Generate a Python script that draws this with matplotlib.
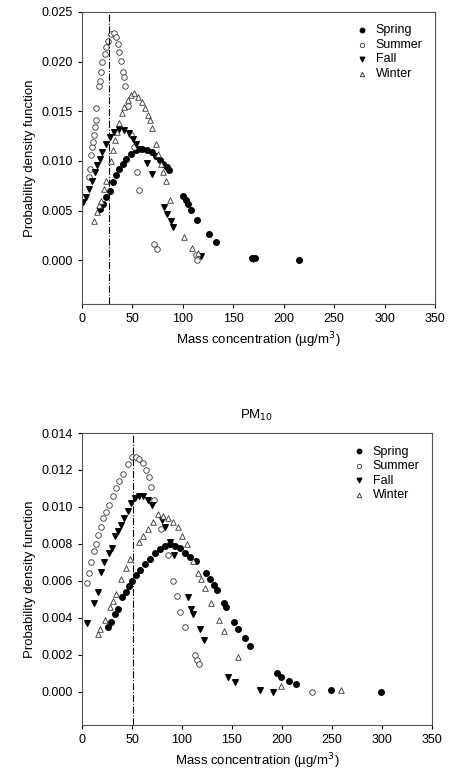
import matplotlib.pyplot as plt

# PM2.5 panel (top)
a_spring_x = [18, 21, 24, 27.5, 31, 34, 37, 41, 44, 49, 54, 59, 64, 69, 73, 77, 80.5, 84, 86,
              100, 103, 105, 108.5, 114, 125.5, 133, 169, 172, 215]
a_spring_y = [0.0052, 0.0057, 0.0064, 0.0070, 0.0079, 0.0086, 0.0092, 0.0097, 0.0102, 0.0107,
              0.0111, 0.0112, 0.0111, 0.0109, 0.0105, 0.0101, 0.0097, 0.0094, 0.0091,
              0.0065, 0.0061, 0.0057, 0.0051, 0.0041, 0.0026, 0.0018, 0.0002, 0.0002, 0.0000]
a_summer_x = [7, 8, 9, 10, 10.5, 11.5, 12.5, 13.5, 14, 17, 18, 18.5, 20, 22.5, 24, 26, 29, 32,
              34, 36, 37, 39, 41, 42, 43, 46, 49, 52, 55, 57, 71, 74, 113, 114]
a_summer_y = [0.0084, 0.0092, 0.0106, 0.0114, 0.0119, 0.0126, 0.0134, 0.0141, 0.0153, 0.0175,
              0.0181, 0.0190, 0.0200, 0.0208, 0.0215, 0.0221, 0.0228, 0.0229, 0.0225, 0.0218,
              0.0210, 0.0201, 0.0190, 0.0185, 0.0175, 0.0155, 0.0126, 0.0114, 0.0089, 0.0071,
              0.0016, 0.0011, 0.0005, 0.0000]
a_fall_x = [1, 3.5, 7, 10, 12.5, 15, 17.5, 20, 23.5, 27.5, 32, 37, 42, 46.5, 50.5, 54, 57, 64,
            69, 81, 84, 88, 90, 118, 170]
a_fall_y = [0.0059, 0.0064, 0.0072, 0.0080, 0.0089, 0.0096, 0.0102, 0.0109, 0.0117, 0.0124,
            0.0129, 0.0132, 0.0131, 0.0128, 0.0122, 0.0117, 0.0112, 0.0098, 0.0087, 0.0054,
            0.0047, 0.0040, 0.0034, 0.0004, 0.0001]
a_winter_x = [12, 15, 17, 18.5, 21.5, 23.5, 29, 31, 32.5, 35, 37, 40, 42, 45.5, 49, 52, 55.5,
              59, 62, 65.5, 67, 69.5, 73, 75.5, 78.5, 80.5, 83, 87, 101, 109.5, 115]
a_winter_y = [0.0040, 0.0049, 0.0056, 0.0060, 0.0072, 0.0080, 0.0100, 0.0111, 0.0121, 0.0129,
              0.0138, 0.0148, 0.0154, 0.0161, 0.0166, 0.0168, 0.0164, 0.0159, 0.0153, 0.0146,
              0.0141, 0.0133, 0.0117, 0.0107, 0.0097, 0.0089, 0.0080, 0.0061, 0.0023, 0.0012,
              0.0007]

# PM10 panel (bottom)
b_spring_x = [26, 29, 32.5, 36, 40, 43.5, 47, 50, 54, 57.5, 62.5, 67.5, 72.5, 77.5, 82.5, 87.5,
              92.5, 97.5, 102.5, 107.5, 114, 123.5, 127.5, 131.5, 135, 142, 143.5, 152, 156,
              162.5, 167.5, 195, 199, 207, 213.5, 249, 299]
b_spring_y = [0.0035, 0.0038, 0.0042, 0.0045, 0.0051, 0.0054, 0.0057, 0.0060, 0.0063, 0.0066,
              0.0069, 0.0072, 0.0075, 0.0077, 0.0079, 0.0080, 0.0079, 0.0078, 0.0075, 0.0073,
              0.0071, 0.0064, 0.0061, 0.0058, 0.0055, 0.0048, 0.0046, 0.0038, 0.0034, 0.0029,
              0.0025, 0.0010, 0.0008, 0.0006, 0.0004, 0.0001, 0.0000]
b_summer_x = [5, 6.5, 9, 12, 14, 16, 19, 21, 24, 27, 31, 34, 37, 41, 46, 50, 54, 57, 61, 64,
              67, 69, 72, 79, 85.5, 91, 95, 98, 103, 112.5, 115, 117, 230]
b_summer_y = [0.0059, 0.0064, 0.0070, 0.0076, 0.0080, 0.0085, 0.0089, 0.0094, 0.0097, 0.0101,
              0.0106, 0.0110, 0.0114, 0.0118, 0.0123, 0.0127, 0.0127, 0.0126, 0.0124, 0.0120,
              0.0116, 0.0111, 0.0104, 0.0088, 0.0074, 0.0060, 0.0052, 0.0043, 0.0035, 0.0020,
              0.0017, 0.0015, 0.0000]
b_fall_x = [5, 12, 15.5, 19, 22, 27, 30, 32.5, 36, 39, 42, 46, 49, 53, 57, 61, 66, 70, 80,
            82.5, 87.5, 91.5, 105.5, 109, 110.5, 117.5, 121.5, 146, 153, 178, 191]
b_fall_y = [0.0037, 0.0048, 0.0054, 0.0065, 0.0070, 0.0075, 0.0078, 0.0084, 0.0087, 0.0090,
            0.0094, 0.0098, 0.0102, 0.0105, 0.0106, 0.0106, 0.0104, 0.0101, 0.0093, 0.0089,
            0.0081, 0.0074, 0.0051, 0.0045, 0.0042, 0.0034, 0.0028, 0.0008, 0.0005, 0.0001,
            0.0000]
b_winter_x = [16, 18, 23, 28, 31, 33.5, 39, 43.5, 47.5, 57, 61, 66, 71, 76, 81, 86, 91, 96,
              100, 105, 111, 116, 119, 122.5, 129, 137, 142, 156, 199, 259]
b_winter_y = [0.0031, 0.0034, 0.0039, 0.0046, 0.0049, 0.0053, 0.0061, 0.0067, 0.0072, 0.0081,
              0.0084, 0.0088, 0.0092, 0.0096, 0.0095, 0.0094, 0.0092, 0.0089, 0.0084, 0.0080,
              0.0071, 0.0064, 0.0061, 0.0056, 0.0048, 0.0039, 0.0033, 0.0019, 0.0003, 0.0001]

season_labels = ['Spring', 'Summer', 'Fall', 'Winter']

plt.rcParams['font.family'] = ['Liberation Sans', 'DejaVu Sans']
fig = plt.figure(figsize=(4.5, 7.82), dpi=100)
ax1 = fig.add_axes([82 / 450, 1 - 304 / 782, 353 / 450, 292 / 782])
ax2 = fig.add_axes([82 / 450, 1 - 725 / 782, 350 / 450, 292 / 782])


def draw_panel(ax, series, ylim, yticks, fmt, vline):
    styles = [dict(marker='o', facecolor='black', edgecolor='black', s=16),
              dict(marker='o', facecolor='white', edgecolor='#333333', s=16, linewidths=0.6),
              dict(marker='v', facecolor='black', edgecolor='black', s=16),
              dict(marker='^', facecolor='white', edgecolor='#333333', s=16, linewidths=0.6)]
    for (x, y), lab, st in zip(series, season_labels, styles):
        ax.scatter(x, y, label=lab, **st)
    ax.axvline(vline, color='black', lw=0.8, ls='-.')
    ax.set_xlim(0, 350)
    ax.set_ylim(*ylim)
    ax.set_xticks(range(0, 351, 50))
    ax.set_yticks(yticks)
    ax.set_yticklabels([fmt % t for t in yticks])
    ax.tick_params(labelsize=9, direction='out', length=3)
    ax.set_ylabel('Probability density function', fontsize=9.5)
    ax.set_xlabel('Mass concentration (µg/m$^3$)', fontsize=9.5)
    ax.legend(loc='upper right', frameon=False, fontsize=9, handletextpad=0.1,
              labelspacing=0.2, borderaxespad=0.6, markerscale=0.8)
    for sp in ax.spines.values():
        sp.set_color('#555555')


draw_panel(ax1, [(a_spring_x, a_spring_y), (a_summer_x, a_summer_y),
                 (a_fall_x, a_fall_y), (a_winter_x, a_winter_y)],
           (-0.0044, 0.025), [0, 0.005, 0.010, 0.015, 0.020, 0.025], '%.3f', 27)
draw_panel(ax2, [(b_spring_x, b_spring_y), (b_summer_x, b_summer_y),
                 (b_fall_x, b_fall_y), (b_winter_x, b_winter_y)],
           (-0.0018, 0.014), [0, 0.002, 0.004, 0.006, 0.008, 0.010, 0.012, 0.014], '%.3f', 51)
ax2.set_title('PM$_{10}$', fontsize=9.5, pad=10)

fig.savefig('out.png', dpi=100)
